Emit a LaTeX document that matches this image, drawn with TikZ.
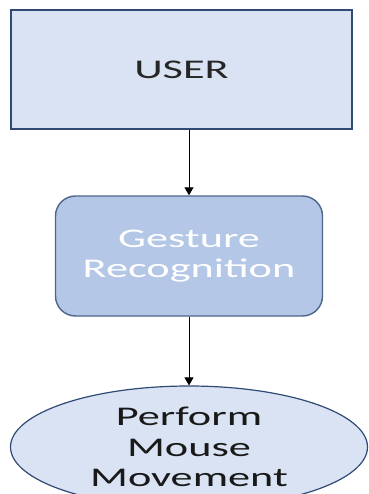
\documentclass[tikz,border=0pt]{standalone}
\usepackage{fontspec}
\usepackage{graphicx}
\setmainfont{Carlito}
\usetikzlibrary{arrows.meta,shapes.geometric}
\definecolor{paleblue}{HTML}{DAE3F3}
\definecolor{midblue}{HTML}{B4C7E7}
\definecolor{edgeblue}{HTML}{2F4A75}
\definecolor{inkgray}{HTML}{262626}
% wide lettering used for all labels
\newcommand{\widetxt}[1]{\scalebox{1.64}[1]{#1}}
\tikzset{
  lbl/.style={font=\fontsize{27}{30.5}\selectfont, align=center, inner sep=0pt},
  userbox/.style={draw=edgeblue, line width=1.8pt, fill=paleblue, minimum width=341pt, minimum height=119pt, lbl, text=inkgray},
  stagebox/.style={draw=edgeblue!85, line width=1.4pt, fill=midblue, rounded corners=20pt, minimum width=267pt, minimum height=120pt, lbl, text=white},
  endoval/.style={ellipse, draw=edgeblue, line width=1.2pt, fill=paleblue, minimum width=357pt, minimum height=122pt, lbl, text=black!90},
  flow/.style={line width=0.9pt, -{Triangle[width=9pt,length=8pt]}}
}
\begin{document}
\begin{tikzpicture}[x=1pt,y=-1pt]
  \useasboundingbox (0,0) rectangle (368,494);
  \clip (0,0) rectangle (368,494);
  \node[userbox] (user) at (181.5,69.5) {\widetxt{USER}};
  \node[stagebox] (gesture) at (189,256) {\widetxt{Gesture}\\\widetxt{Recognition}};
  \node[endoval] (mouse) at (189,447) {\widetxt{Perform}\\\widetxt{Mouse}\\\widetxt{Movement}};
  \draw[flow] (user.south -| gesture.north) -- (gesture.north);
  \draw[flow] (gesture.south) -- (mouse.north);
\end{tikzpicture}
\end{document}
